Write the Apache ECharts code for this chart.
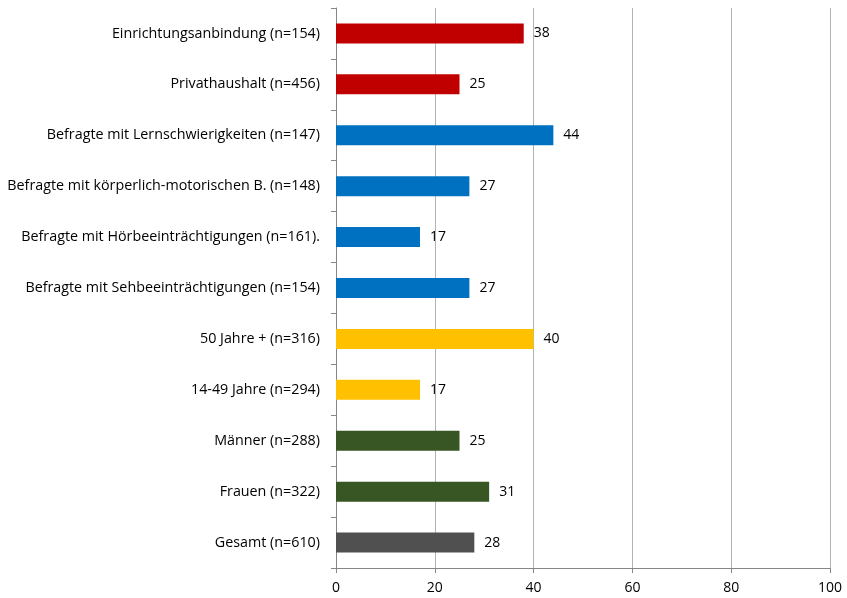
<!DOCTYPE html>
<html>
<head>
<meta charset="utf-8">
<script src="https://cdn.jsdelivr.net/npm/echarts@6/dist/echarts.min.js"></script>
<style>
  html, body { margin: 0; padding: 0; background: #fff; }
  #chart { width: 847px; height: 598px; }
</style>
</head>
<body>
<div id="chart"></div>
<script>
// Kategorien von oben nach unten
var categories = [
    'Einrichtungsanbindung (n=154)',
    'Privathaushalt (n=456)',
    'Befragte mit Lernschwierigkeiten (n=147)',
    'Befragte mit körperlich-motorischen B. (n=148)',
    'Befragte mit Hörbeeinträchtigungen (n=161).',
    'Befragte mit Sehbeeinträchtigungen (n=154)',
    '50 Jahre + (n=316)',
    '14-49 Jahre (n=294)',
    'Männer (n=288)',
    'Frauen (n=322)',
    'Gesamt (n=610)'
];
var values = [38, 25, 44, 27, 17, 27, 40, 17, 25, 31, 28];
var barColors = [
    '#C00000', '#C00000',
    '#0070C0', '#0070C0', '#0070C0', '#0070C0',
    '#FFC000', '#FFC000',
    '#375623', '#375623',
    '#505050'
];
var xTicks = [0, 20, 40, 60, 80, 100];

var chart = echarts.init(document.getElementById('chart'));

var seriesData = values.map(function(v, i) {
    return { value: v, itemStyle: { color: barColors[i] } };
});

var option = {
    animation: false,
    textStyle: { fontFamily: 'Open Sans' },
    grid: { left: 336, right: 17, top: 8, bottom: 30 },
    xAxis: {
        type: 'value',
        min: xTicks[0],
        max: xTicks[xTicks.length - 1],
        interval: 20,
        axisLine: { show: true, lineStyle: { color: '#868686' } },
        axisTick: { show: true, length: 5, lineStyle: { color: '#868686' } },
        axisLabel: { color: '#000', fontSize: 14, margin: 13, fontFamily: 'Open Sans' },
        splitLine: { show: true, lineStyle: { color: '#b3b3b3', width: 1 } }
    },
    yAxis: {
        type: 'category',
        inverse: true,
        data: categories,
        axisLine: { show: true, lineStyle: { color: '#868686' } },
        axisTick: { show: true, length: 5, lineStyle: { color: '#868686' } },
        axisLabel: { color: '#000', fontSize: 14.3, margin: 16, fontFamily: 'Open Sans' }
    },
    series: [{
        type: 'bar',
        data: seriesData,
        barWidth: 20,
        label: {
            show: true,
            position: 'right',
            distance: 10,
            color: '#000',
            fontSize: 14,
            fontFamily: 'Open Sans'
        }
    }]
};

chart.setOption(option);
</script>
</body>
</html>
